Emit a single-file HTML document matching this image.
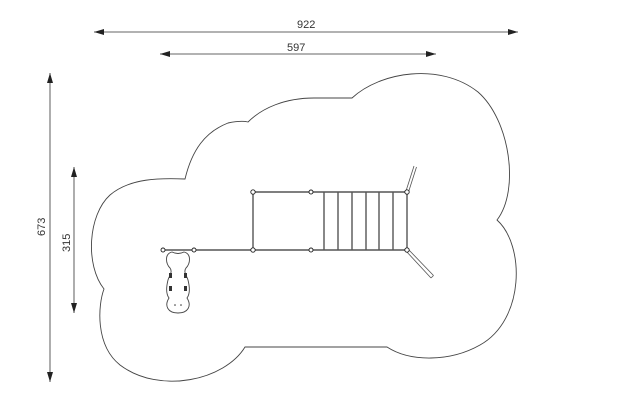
<!DOCTYPE html>
<html><head><meta charset="utf-8"><style>
html,body{margin:0;padding:0;background:#fff;}
svg{display:block;}
text{font-family:"Liberation Sans",sans-serif;font-size:11px;fill:#333;}
</style></head><body>
<svg width="638" height="417" viewBox="0 0 638 417" xmlns="http://www.w3.org/2000/svg">
<defs>
<marker id="a" viewBox="0 0 10 6" refX="10" refY="3" markerWidth="10" markerHeight="6" orient="auto-start-reverse" markerUnits="userSpaceOnUse"><path d="M0,0 L10,3 L0,6 z" fill="#222"/></marker>
</defs>
<g stroke="#333" stroke-width="0.8" fill="none">
<line x1="94" y1="32" x2="518" y2="32" marker-start="url(#a)" marker-end="url(#a)"/>
<line x1="160" y1="54" x2="436" y2="54" marker-start="url(#a)" marker-end="url(#a)"/>
<line x1="50" y1="73" x2="50" y2="382" marker-start="url(#a)" marker-end="url(#a)"/>
<line x1="74" y1="167" x2="74" y2="313" marker-start="url(#a)" marker-end="url(#a)"/>
</g>
<text x="297" y="28">922</text>
<text x="287" y="51">597</text>
<text transform="translate(45,236) rotate(-90)">673</text>
<text transform="translate(70,252) rotate(-90)">315</text>
<path fill="none" stroke="#444" stroke-width="0.9" d="
M352,98 C380,72 440,62 478,92 C510,120 520,190 497,220
C525,245 525,320 480,345 C450,362 410,362 387,347
L245,347
C225,380 160,395 120,365 C95,345 98,305 104,289
C85,265 88,215 110,195 C130,178 160,178 185,179
C192,150 205,132 228,123 C238,121 244,121 248,122
C262,108 285,98 314,98 Z"/>
<g stroke="#555" stroke-width="1.4" fill="none">
<line x1="253" y1="192" x2="407" y2="192"/>
<line x1="163" y1="250" x2="407" y2="250"/>
<line x1="253" y1="192" x2="253" y2="250"/>
<line x1="407" y1="192" x2="407" y2="250"/>
<line x1="324" y1="192" x2="324" y2="250"/>
<line x1="338" y1="192" x2="338" y2="250"/>
<line x1="352" y1="192" x2="352" y2="250"/>
<line x1="366" y1="192" x2="366" y2="250"/>
<line x1="379" y1="192" x2="379" y2="250"/>
<line x1="393" y1="192" x2="393" y2="250"/>
</g>
<g stroke="#555" stroke-width="0.8" fill="none">
<line x1="406" y1="191" x2="414" y2="166"/><line x1="408.5" y1="192" x2="416.5" y2="167"/>
<line x1="406" y1="251" x2="431" y2="278"/><line x1="408" y1="249" x2="433.5" y2="275.5"/>
<line x1="431" y1="278" x2="433.5" y2="275.5"/>
</g>
<g fill="#fff" stroke="#222" stroke-width="0.9">
<circle cx="163" cy="250" r="2"/><circle cx="194" cy="250" r="2"/>
<circle cx="253" cy="250" r="2.2"/><circle cx="311" cy="250" r="2"/>
<circle cx="253" cy="192" r="2.2"/><circle cx="311" cy="192" r="2"/>
<circle cx="407" cy="192" r="2.2"/><circle cx="407" cy="250" r="2.2"/>
</g>
<path fill="none" stroke="#444" stroke-width="0.9" d="M172,252 C164,254 166,264 170,268 C173,272 169,276 168,280 C166,288 166,294 169,298 C164,306 168,313 178,313 C188,313 192,306 187,298 C190,294 190,288 188,280 C187,276 183,272 186,268 C190,264 192,254 184,252 C180,254 176,254 172,252 Z"/>
<g fill="#333">
<rect x="169" y="273" width="3" height="5"/><rect x="184" y="273" width="3" height="5"/>
<rect x="169" y="286" width="3" height="5"/><rect x="184" y="286" width="3" height="5"/>
<circle cx="175" cy="305" r="0.8"/><circle cx="181" cy="305" r="0.8"/>
</g>
</svg>
</body></html>
